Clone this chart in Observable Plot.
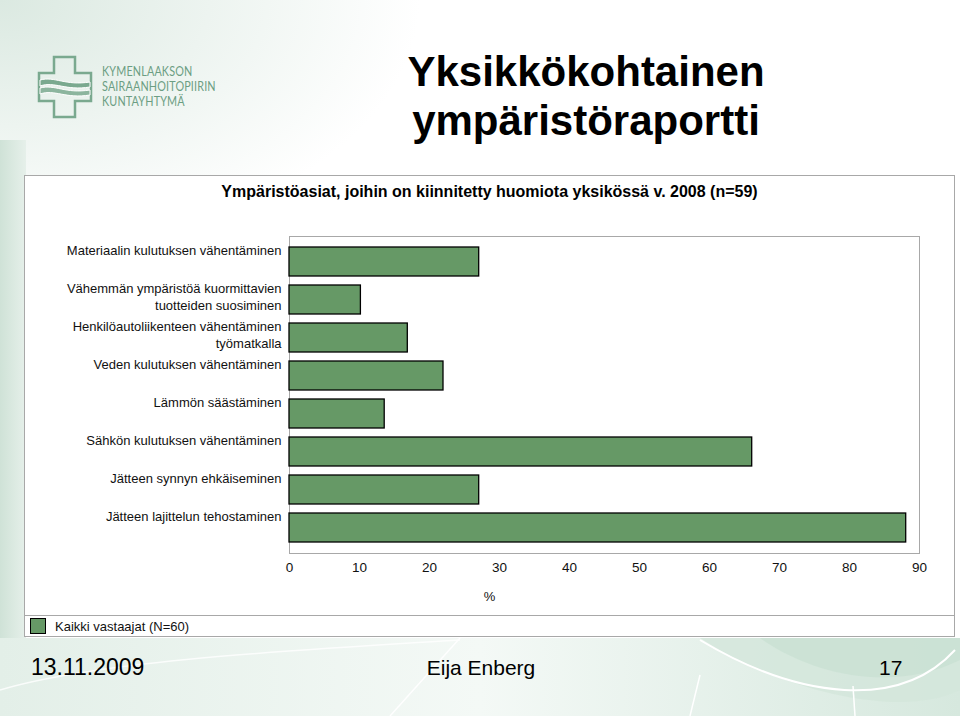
<!DOCTYPE html>
<html>
<head>
<meta charset="utf-8">
<script src="https://cdn.jsdelivr.net/npm/d3@7"></script>
<script src="https://cdn.jsdelivr.net/npm/@observablehq/plot@0.6"></script>
<style>
  html, body { margin: 0; padding: 0; }
  body { width: 960px; height: 716px; position: relative; overflow: hidden; font-family: "Liberation Sans", Arial, sans-serif; background: #fff; }
  #bg { position: absolute; left: 0; top: 0; }
  .abs { position: absolute; }
  #title { left: 366px; top: 47px; width: 440px; text-align: center; font-weight: bold; font-size: 42px; line-height: 49px; color: #000; }
  #logoText { left: 102px; top: 64px; font-family: Lato, "DejaVu Sans", sans-serif; font-size: 13.5px; line-height: 15px; letter-spacing: 0.2px; color: #6c9e83; transform: scaleX(0.8); transform-origin: left top; white-space: nowrap; }
  #box { left: 24px; top: 175px; width: 931px; height: 462px; background: #fff; border: 1px solid #a8a8a8; box-sizing: border-box; }
  #legendLine { left: 24px; top: 615px; width: 931px; height: 1px; background: #a8a8a8; }
  #subtitle { left: 24px; top: 183px; width: 931px; text-align: center; font-weight: bold; font-size: 16px; color: #000; }
  #chart { left: 25px; top: 200px; }
  #legend { left: 30px; top: 618px; font-size: 13px; color: #111; display: flex; align-items: center; }
  #legend .sw { width: 14px; height: 14px; background: #669966; border: 1px solid #000; margin-right: 9px; }
  .foot { top: 656px; font-size: 21px; color: #000; }
</style>
</head>
<body>
<svg id="bg" width="960" height="716">
  <defs>
    <linearGradient id="leftStrip" x1="0" x2="1" y1="0" y2="0">
      <stop offset="0" stop-color="#cfe2d7"/>
      <stop offset="1" stop-color="#e6f0ea"/>
    </linearGradient>
    <radialGradient id="topLeft" cx="0" cy="0" r="1">
      <stop offset="0" stop-color="#dbe9e1"/>
      <stop offset="0.6" stop-color="#ffffff"/>
    </radialGradient>
    <linearGradient id="footG" x1="0" x2="1" y1="0" y2="0">
      <stop offset="0" stop-color="#e3efe8"/>
      <stop offset="0.5" stop-color="#f4f9f6"/>
      <stop offset="1" stop-color="#d6e8de"/>
    </linearGradient>
  </defs>
  <rect x="0" y="0" width="960" height="716" fill="#fff"/>
  <rect x="0" y="0" width="700" height="420" fill="url(#topLeft)"/>
  <rect x="0" y="140" width="26" height="510" fill="url(#leftStrip)"/>
  <rect x="0" y="638" width="960" height="78" fill="url(#footG)"/>
  <path d="M700,638 C780,690 900,720 960,690 L960,638 Z" fill="#d3e6db" opacity="0.8"/>
  <path d="M760,638 C820,680 900,690 960,660 L960,638 Z" fill="#c8e0d2" opacity="0.7"/>
  <path d="M700,640 C800,700 900,710 955,650" fill="none" stroke="#fff" stroke-width="2"/>
  <path d="M0,690 C100,660 300,650 460,640" fill="none" stroke="#fff" stroke-width="1.5" opacity="0.8"/>
  <line x1="390" y1="716" x2="460" y2="638" stroke="#fff" stroke-width="1.5"/>
  <line x1="690" y1="716" x2="700" y2="675" stroke="#fff" stroke-width="1.5"/>
  <line x1="855" y1="716" x2="853" y2="686" stroke="#fff" stroke-width="1.5"/>
  <!-- logo -->
  <polygon points="54,57 75,57 75,73 91,73 91,101 75,101 75,117 54,117 54,101 39,101 39,73 54,73" fill="none" stroke="#7aa98f" stroke-width="2.5"/>
  <path d="M40,80 C55,76 65,86 90,82 L90,87 C65,91 55,81 40,86 Z" fill="#7aa98f" stroke="#fff" stroke-width="1"/>
  <path d="M40,88 C55,84 65,94 90,90 L90,95 C65,99 55,89 40,94 Z" fill="#8cb59e" stroke="#fff" stroke-width="1"/>
</svg>
<div id="logoText" class="abs">KYMENLAAKSON<br>SAIRAANHOITOPIIRIN<br>KUNTAYHTYMÄ</div>
<div id="title" class="abs">Yksikkökohtainen<br>ympäristöraportti</div>
<div id="box" class="abs"></div>
<div id="legendLine" class="abs"></div>
<div id="subtitle" class="abs">Ympäristöasiat, joihin on kiinnitetty huomiota yksikössä v. 2008 (n=59)</div>
<div id="chart" class="abs"></div>
<div id="legend" class="abs"><div class="sw"></div><span id="legendLabel"></span></div>
<div class="abs foot" style="left:31px; font-size:23px; top:654px">13.11.2009</div>
<div class="abs foot" style="left:0; width:962px; text-align:center">Eija Enberg</div>
<div class="abs foot" style="left:879px">17</div>
<script>
const categories = [
  "Materiaalin kulutuksen vähentäminen",
  "Vähemmän ympäristöä kuormittavien\ntuotteiden suosiminen",
  "Henkilöautoliikenteen vähentäminen\ntyömatkalla",
  "Veden kulutuksen vähentäminen",
  "Lämmön säästäminen",
  "Sähkön kulutuksen vähentäminen",
  "Jätteen synnyn ehkäiseminen",
  "Jätteen lajittelun tehostaminen"
];
const values = [27.1, 10.2, 16.9, 22.0, 13.6, 66.1, 27.1, 88.1];
const xTicks = [0, 10, 20, 30, 40, 50, 60, 70, 80, 90];
const seriesName = "Kaikki vastaajat (N=60)";
const xLabel = "%";

document.getElementById("legendLabel").textContent = seriesName;

const data = categories.map((c, i) => ({category: c, value: values[i]}));

const chart = Plot.plot({
  width: 920,
  height: 412,
  marginLeft: 264,
  marginRight: 26,
  marginTop: 36,
  marginBottom: 59,
  style: {background: "transparent", fontFamily: "'Liberation Sans', Arial, sans-serif", fontSize: "13px", color: "#111"},
  x: {domain: [0, 90], axis: null},
  y: {domain: categories, padding: 0.25, axis: null},
  marks: [
    Plot.frame({stroke: "#a8a8a8"}),
    Plot.barX(data, {x: "value", y: "category", fill: "#669966", stroke: "#000", strokeWidth: 1.3}),
    Plot.text(data, {y: "category", text: "category", frameAnchor: "left", textAnchor: "end", lineAnchor: "top", lineHeight: 1.3, dx: -8, dy: -19, fill: "#111", fontSize: 13}),
    Plot.axisX({ticks: xTicks, tickSize: 0, tickPadding: 9, fontSize: 13.5, tickFormat: d => String(d), label: null}),
    Plot.text([xLabel], {frameAnchor: "bottom", dx: -115, dy: 47, fill: "#111", fontSize: 13})
  ]
});
document.getElementById("chart").appendChild(chart);
</script>
</body>
</html>
